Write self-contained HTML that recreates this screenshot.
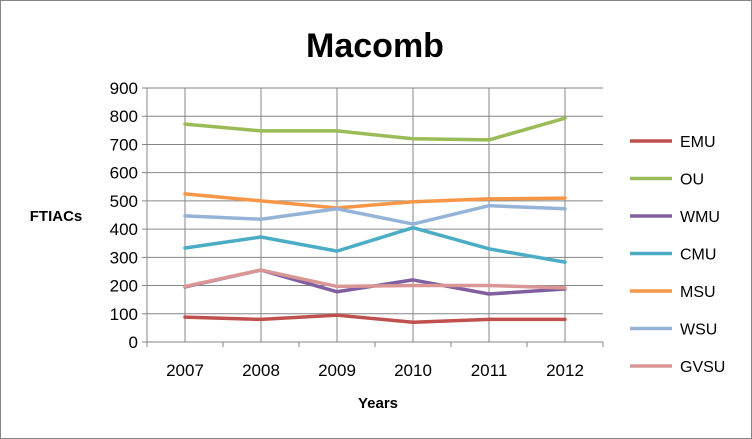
<!DOCTYPE html>
<html><head><meta charset="utf-8"><style>
body{margin:0;background:#fff}
svg{display:block;font-family:"Liberation Sans",Calibri,sans-serif}
</style></head><body>
<svg width="752" height="439">
<rect x="0.5" y="0.5" width="751" height="438" fill="#fff" stroke="#868686"/>
<text x="375" y="57" text-anchor="middle" font-size="34" font-weight="bold">Macomb</text>
<text x="56" y="221" text-anchor="middle" font-size="15" font-weight="bold">FTIACs</text>
<text x="378" y="408" text-anchor="middle" font-size="15" font-weight="bold">Years</text>
<g id="plot"></g>
<g id="legend"></g>
</svg>
<script>
const categories=["2007","2008","2009","2010","2011","2012"];
const yTicks=[0,100,200,300,400,500,600,700,800,900];
const seriesNames=["EMU","OU","WMU","CMU","MSU","WSU","GVSU"];
const EMU=[88,80,95,70,80,80];
const OU=[772,748,748,720,716,793];
const WMU=[195,255,178,220,170,188];
const CMU=[333,372,322,405,330,283];
const MSU=[525,500,475,497,507,510];
const WSU=[447,435,472,418,483,472];
const GVSU=[197,255,197,200,200,192];
const seriesValues=[EMU,OU,WMU,CMU,MSU,WSU,GVSU];
const colors=["#C0504D","#9BBB59","#7F5FA0","#4BACC6","#F79646","#95B3D7","#D99694"];
const L=147,R=603,T=88,B=342,ymax=900;
const band=(R-L)/categories.length;
const x=i=>L+band*(i+0.5);
const y=v=>B-(v/ymax)*(B-T);
const NS="http://www.w3.org/2000/svg";
const plot=document.getElementById('plot');
function mk(tag,attrs,parent){const e=document.createElementNS(NS,tag);for(const k in attrs)e.setAttribute(k,attrs[k]);parent.appendChild(e);return e;}
yTicks.forEach(t=>{
 const g=mk('line',{x1:L-5,x2:R,y1:y(t),y2:y(t),stroke:"#868686","stroke-width":1},plot);
 
 
 const tx=mk('text',{x:L-9,y:y(t)+6,"text-anchor":"end","font-size":17},plot);
 tx.textContent=t;
 
 
});
categories.forEach((c,i)=>{
 const g=mk('line',{x1:x(i),x2:x(i),y1:T,y2:B,stroke:"#868686","stroke-width":1},plot);
 
 
 const tx=mk('text',{x:x(i),y:B+34,"text-anchor":"middle","font-size":17},plot);
 tx.textContent=c;
 
 
});
for(let i=0;i<=categories.length;i++){
 const tk=mk('line',{x1:L+band*i,x2:L+band*i,y1:B,y2:B+5,stroke:"#868686"},plot);
 
 
}
const ax=mk('line',{x1:L,x2:L,y1:T,y2:B,stroke:"#868686"},plot);


const ax2=mk('line',{x1:L,x2:R,y1:B,y2:B,stroke:"#868686"},plot);


seriesValues.forEach((vals,s)=>{
 const pts=vals.map((v,i)=>x(i)+","+y(v)).join(" ");
 const pl=mk('polyline',{points:pts,fill:"none",stroke:colors[s],"stroke-width":3.5,"stroke-linejoin":"round","stroke-linecap":"round"},plot);
 
 
});
const legend=document.getElementById('legend');
seriesNames.forEach((n,s)=>{
 const ly=141+s*37.5;
 const g=mk('g',{},legend);
 
 
 mk('line',{x1:630,x2:672,y1:ly,y2:ly,stroke:colors[s],"stroke-width":3.5},g);
 const t=mk('text',{x:680,y:ly+6,"font-size":16},g);
 t.textContent=n;
});
</script>
</body></html>
